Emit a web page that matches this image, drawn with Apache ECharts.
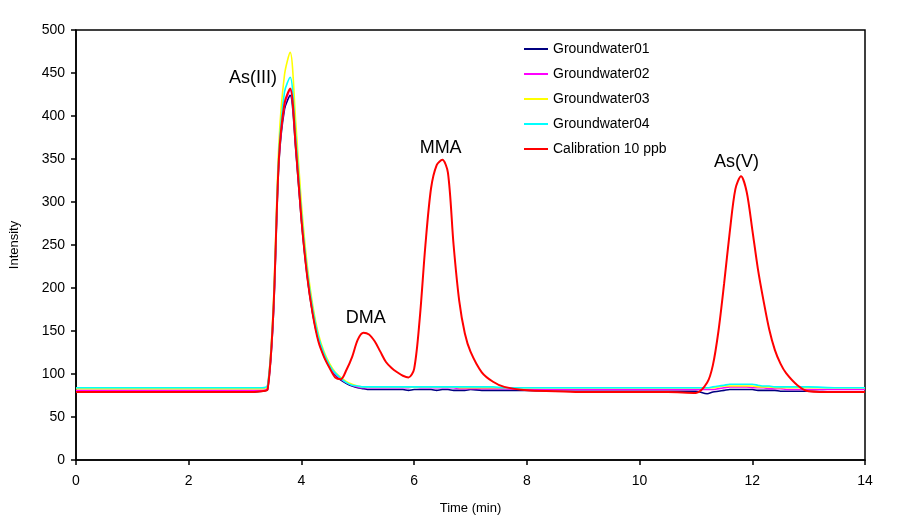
<!DOCTYPE html>
<html>
<head>
<meta charset="utf-8">
<script src="https://cdn.jsdelivr.net/npm/echarts@6/dist/echarts.min.js"></script>
<style>
  html, body { margin: 0; padding: 0; background: #fff; }
  #chart { width: 897px; height: 530px; }
</style>
</head>
<body>
<div id="chart"></div>
<script>
// retention time (min), shared by every trace
var times = [0, 0.5, 1, 1.5, 2, 2.5, 3, 3.3, 3.4, 3.5, 3.6, 3.7, 3.8, 3.9, 4.0, 4.1, 4.2, 4.3, 4.4, 4.5,
  4.6, 4.7, 4.8, 4.9, 5.0, 5.1, 5.2, 5.3, 5.4, 5.5, 5.6, 5.7, 5.8, 5.9, 6.0, 6.1, 6.2, 6.3, 6.4, 6.5,
  6.6, 6.7, 6.8, 6.9, 7.0, 7.2, 7.4, 7.6, 8, 8.5, 9, 9.5, 10, 10.5, 11, 11.2, 11.3, 11.4, 11.5, 11.6,
  11.7, 11.8, 11.9, 12.0, 12.1, 12.2, 12.3, 12.4, 12.5, 12.6, 12.8, 13.0, 13.5, 14];

var groundwater01 = [79, 80, 79, 79, 79, 80, 79, 80, 82, 165, 345, 408, 424, 360, 278, 215, 170, 140, 121, 108,
  99, 93, 89, 86, 84, 83, 82, 82, 82, 82, 82, 82, 82, 81, 82, 82, 82, 82, 81, 82,
  82, 81, 81, 81, 82, 81, 81, 81, 81, 80, 80, 80, 80, 80, 80, 77, 79, 80, 81, 82,
  82, 82, 82, 82, 81, 81, 81, 81, 80, 80, 80, 80, 79, 79];
var groundwater02 = [81, 81, 81, 81, 81, 81, 81, 81, 84, 168, 350, 412, 430, 366, 282, 218, 172, 141, 122, 109,
  100, 94, 90, 87, 85, 84, 84, 84, 84, 84, 84, 84, 84, 84, 85, 84, 84, 84, 84, 84,
  84, 84, 83, 83, 83, 83, 83, 83, 82, 82, 82, 82, 82, 82, 82, 82, 82, 83, 84, 85,
  85, 85, 85, 84, 84, 84, 83, 83, 83, 82, 82, 82, 82, 82];
var groundwater03 = [83, 83, 83, 83, 83, 83, 83, 83, 86, 178, 368, 448, 474, 392, 298, 228, 180, 147, 126, 112,
  102, 96, 91, 88, 86, 85, 85, 85, 85, 85, 85, 85, 85, 85, 85, 85, 85, 85, 85, 85,
  85, 85, 84, 84, 84, 84, 84, 84, 84, 84, 84, 84, 84, 84, 84, 84, 84, 85, 86, 86,
  86, 86, 86, 86, 85, 85, 85, 84, 84, 84, 84, 84, 84, 84];
var groundwater04 = [84, 84, 84, 84, 84, 84, 84, 84, 87, 172, 356, 428, 445, 376, 288, 222, 176, 144, 124, 110,
  101, 95, 90, 87, 86, 85, 85, 85, 85, 85, 85, 85, 85, 85, 85, 85, 85, 85, 85, 85,
  85, 85, 85, 85, 85, 85, 85, 84, 84, 84, 84, 84, 84, 84, 84, 84, 85, 86, 87, 88,
  88, 88, 88, 88, 87, 86, 86, 85, 85, 85, 85, 85, 84, 84];
var calibration10 = [79, 79, 79, 79, 79, 79, 79, 80, 82, 170, 350, 415, 432, 365, 280, 215, 170, 138, 120, 107,
  96, 94, 105, 120, 140, 148, 146, 138, 126, 114, 107, 102, 98, 96, 106, 165, 250, 316, 343, 349,
  334, 250, 185, 147, 126, 102, 91, 85, 81, 80, 79, 79, 79, 79, 78, 90, 110, 150, 205, 265,
  315, 330, 312, 268, 222, 185, 152, 128, 112, 101, 87, 80, 79, 79];

var seriesNames = ['Groundwater01', 'Groundwater02', 'Groundwater03', 'Groundwater04', 'Calibration 10 ppb'];
var seriesValues = [groundwater01, groundwater02, groundwater03, groundwater04, calibration10];
var seriesColors = ['#000080', '#ff00ff', '#ffff00', '#00ffff', '#ff0000'];

// peak names and where their text sits (time, intensity)
var peakNames = ['As(III)', 'DMA', 'MMA', 'As(V)'];
var peakLabelAt = [[3.14, 444], [5.14, 165], [6.47, 363], [11.72, 347]];

var xTicks = [0, 2, 4, 6, 8, 10, 12, 14];
var yTicks = [0, 50, 100, 150, 200, 250, 300, 350, 400, 450, 500];

var chart = echarts.init(document.getElementById('chart'), null, { renderer: 'canvas' });

var font = 'Liberation Sans, Arial, sans-serif';

var series = seriesNames.map(function (name, i) {
  var s = {
    name: name,
    type: 'line',
    showSymbol: false,
    smooth: 0.3,
    data: times.map(function (t, j) { return [t, seriesValues[i][j]]; }),
    lineStyle: { color: seriesColors[i], width: i === 4 ? 2 : 1.6 },
    itemStyle: { color: seriesColors[i] },
    z: 2 + i
  };
  if (i === 4) {
    s.markPoint = {
      symbol: 'circle',
      symbolSize: 0,
      silent: true,
      label: {
        show: true,
        position: 'inside',
        color: '#000',
        fontFamily: font,
        fontSize: 18,
        formatter: function (p) { return p.name; }
      },
      data: peakNames.map(function (n, k) {
        return { name: n, coord: peakLabelAt[k] };
      })
    };
  }
  return s;
});

var option = {
  animation: false,
  backgroundColor: '#fff',
  textStyle: { fontFamily: font },
  grid: {
    left: 75, right: 32, top: 30, bottom: 70,
    show: true, borderColor: '#000', borderWidth: 1.5, backgroundColor: '#fff'
  },
  legend: {
    orient: 'vertical',
    left: 519, top: 37,
    itemGap: 11,
    itemWidth: 24, itemHeight: 13,
    icon: 'path://M0,5 L24,5 L24,7 L0,7 Z',
    textStyle: { color: '#000', fontSize: 14, fontFamily: font },
    data: seriesNames
  },
  xAxis: {
    type: 'value',
    min: 0, max: 14, interval: 2,
    name: 'Time (min)',
    nameLocation: 'middle',
    nameGap: 42,
    nameTextStyle: { color: '#000', fontSize: 13, fontFamily: font },
    axisLine: { show: true, lineStyle: { color: '#000', width: 1.5 } },
    axisTick: { show: true, length: 5, lineStyle: { color: '#000', width: 1.5 } },
    axisLabel: {
      color: '#000', fontSize: 14, margin: 14,
      formatter: function (v) { return xTicks.indexOf(v) >= 0 ? String(v) : ''; }
    },
    splitLine: { show: false }
  },
  yAxis: {
    type: 'value',
    min: 0, max: 500, interval: 50,
    name: 'Intensity',
    nameLocation: 'middle',
    nameRotate: 90,
    nameGap: 55,
    nameTextStyle: { color: '#000', fontSize: 13, fontFamily: font },
    axisLine: { show: true, lineStyle: { color: '#000', width: 1.5 } },
    axisTick: { show: true, length: 5, lineStyle: { color: '#000', width: 1.5 } },
    axisLabel: {
      color: '#000', fontSize: 14, margin: 11,
      formatter: function (v) { return yTicks.indexOf(v) >= 0 ? String(v) : ''; }
    },
    splitLine: { show: false }
  },
  series: series
};

chart.setOption(option);
window.addEventListener('resize', chart.resize);
</script>
</body>
</html>
